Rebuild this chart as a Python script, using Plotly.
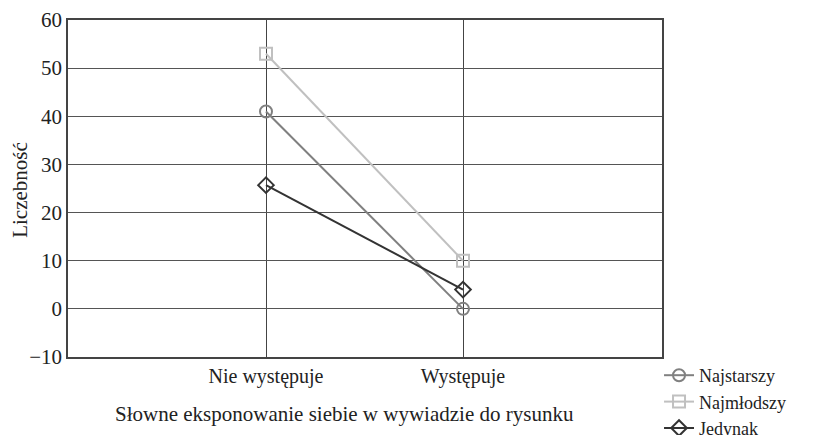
import plotly.graph_objects as go

categories = ["Nie występuje", "Występuje"]
najstarszy = [41, 0]
najmlodszy = [53, 10]
jedynak = [25.7, 4]
y_ticks = [-10, 0, 10, 20, 30, 40, 50, 60]

FONT = "Liberation Serif, Times New Roman, serif"
xpos = list(range(len(categories)))

fig = go.Figure()
series = [
    ("Najstarszy", najstarszy, "#808080", "circle-open"),
    ("Najmłodszy", najmlodszy, "#c0c0c0", "square-open"),
    ("Jedynak", jedynak, "#333333", "diamond-open"),
]
for name, vals, col, sym in series:
    fig.add_trace(go.Scatter(
        x=xpos, y=vals, name=name, mode="lines+markers",
        line=dict(color=col, width=2),
        marker=dict(symbol=sym, size=12, color=col, line=dict(width=2, color=col)),
    ))

fig.update_layout(
    width=815, height=435,
    margin=dict(l=60, r=161, t=12, b=86, autoexpand=False),
    paper_bgcolor="white", plot_bgcolor="white",
    font=dict(family=FONT, size=21, color="#222"),
    showlegend=True,
    legend=dict(x=0.995, y=0.0, xanchor="left", yanchor="top",
                font=dict(family=FONT, size=18, color="#222"),
                bgcolor="rgba(0,0,0,0)", tracegroupgap=0, itemwidth=30),
    xaxis=dict(range=[-1.005, 2.01], tickvals=xpos, ticktext=categories,
               showgrid=True, gridcolor="#444", gridwidth=1,
               zeroline=False, showline=True, linecolor="#444", linewidth=1.5,
               mirror=True, ticks="", tickfont=dict(size=20)),
    yaxis=dict(range=[-10, 60], tickvals=y_ticks, showgrid=True,
               gridcolor="#555", gridwidth=1, zeroline=False,
               showline=True, linecolor="#444", linewidth=1.5, mirror=True,
               ticks="", tickfont=dict(size=21)),
    annotations=[
        dict(text="Liczebność", x=-0.0808, y=0.496, xref="paper", yref="paper",
             xanchor="center", yanchor="middle",
             textangle=-90, showarrow=False, font=dict(size=21)),
        dict(text="Słowne eksponowanie siebie w wywiadzie do rysunku",
             x=0.465, y=-0.169, xref="paper", yref="paper",
             xanchor="center", yanchor="middle",
             showarrow=False, font=dict(size=21)),
    ],
)

fig.write_html("out.html")
